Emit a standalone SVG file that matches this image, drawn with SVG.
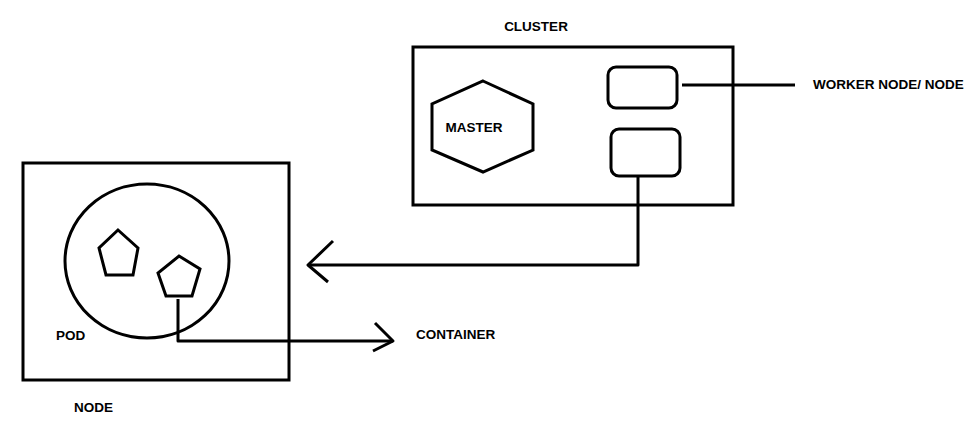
<svg xmlns="http://www.w3.org/2000/svg" width="975" height="427" viewBox="0 0 975 427">
<style>
.s{fill:none;stroke:#000;stroke-width:3;stroke-linejoin:miter}
.c{fill:none;stroke:#000;stroke-width:3;stroke-linejoin:round;stroke-linecap:butt}
.t{font-family:"Liberation Sans",Arial,sans-serif;font-weight:bold;font-size:13.5px;fill:#000}
</style>
<rect width="975" height="427" fill="#fff"/>
<g id="cluster">
<rect class="s" x="413" y="47" width="320" height="158"/>
<text class="t" x="536" y="31" text-anchor="middle" font-size="12.5">CLUSTER</text>
</g>
<g id="master">
<polygon class="s" points="483,81 533,104 533,150 483,172 432,150 432,104"/>
<text class="t" x="474" y="132" text-anchor="middle">MASTER</text>
</g>
<g id="worker1">
<rect class="s" x="608" y="67" width="69" height="41" rx="8"/>
</g>
<g id="worker2">
<rect class="s" x="611" y="129" width="69" height="47" rx="8"/>
</g>
<g id="worker-label">
<text class="t" x="813" y="89">WORKER NODE/ NODE</text>
</g>
<g id="node">
<rect class="s" x="23" y="163" width="266" height="217"/>
<text class="t" x="74" y="412">NODE</text>
</g>
<g id="pod">
<ellipse class="s" cx="147" cy="261" rx="82" ry="77"/>
<text class="t" x="56" y="340">POD</text>
</g>
<g id="container1">
<polygon class="s" points="118,230 138,248 133,275 106,275 99,248"/>
</g>
<g id="container2">
<polygon class="s" points="179,256 200,269 192,296 166,296 158,273"/>
</g>
<g id="container-label">
<text class="t" x="416" y="339">CONTAINER</text>
</g>
<g id="connectors">
<line class="c" x1="682" y1="85" x2="795" y2="85"/>
<polyline class="c" points="638,176 638,265 308,265"/>
<polyline class="c" points="333,241 308,265 328,282"/>
<polyline class="c" points="178,299 178,341 393,341"/>
<polyline class="c" points="375,323 393,341 373,351"/>
</g>
</svg>
